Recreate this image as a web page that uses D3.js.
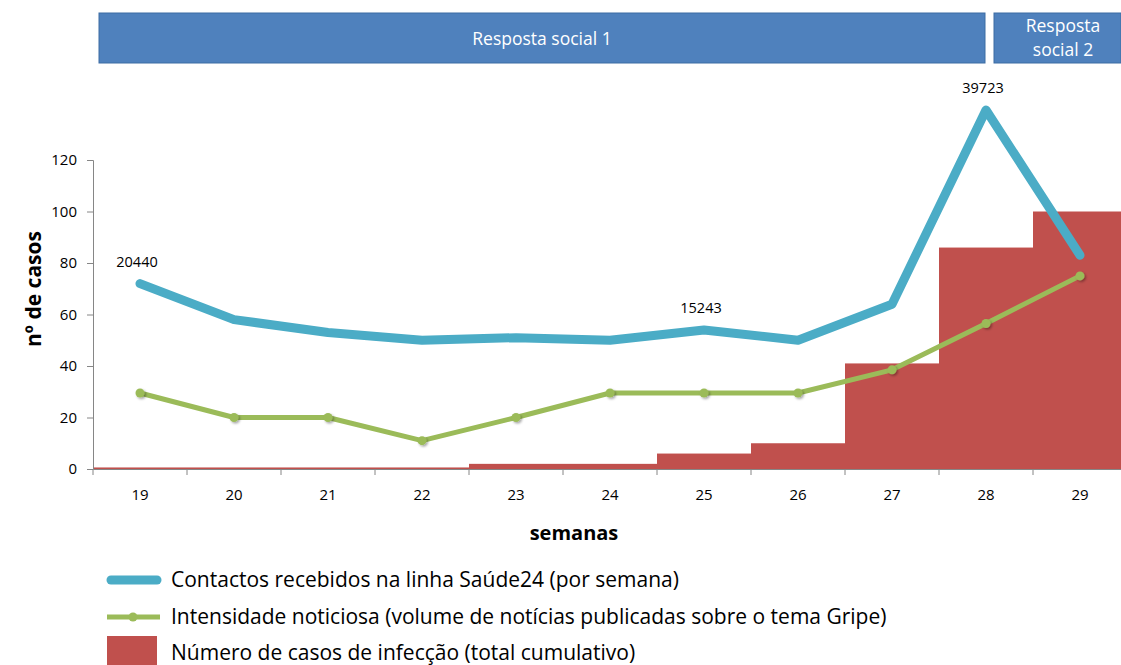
<!DOCTYPE html>
<html>
<head>
<meta charset="utf-8">
<script src="https://cdn.jsdelivr.net/npm/d3@7"></script>
<style>
  body { margin: 0; background: #fff; }
  svg { display: block; font-family: "Open Sans", "Noto Sans", sans-serif; }
</style>
</head>
<body>
<svg id="chart" width="1121" height="665"></svg>
<script>
// data
const weeks = ["19", "20", "21", "22", "23", "24", "25", "26", "27", "28", "29"];
const contactos = [72, 58, 53, 50, 51, 50, 54, 50, 64, 139.4, 83];   // scaled contacts
const contactLabels = [{week: "19", text: "20440"}, {week: "25", text: "15243"}, {week: "28", text: "39723"}];
const noticias = [29.5, 20, 20, 11, 20, 29.5, 29.5, 29.5, 38.5, 56.5, 75];
const casos = [0.6, 0.6, 0.6, 0.6, 2, 2, 6, 10, 41, 86, 100];
const yTicks = [0, 20, 40, 60, 80, 100, 120];
const phases = [
  {label: ["Resposta social 1"], from: "19", to: "28"},
  {label: ["Resposta", "social 2"], from: "29", to: "29"}
];
const legendItems = [
  "Contactos recebidos na linha Saúde24 (por semana)",
  "Intensidade noticiosa (volume de notícias publicadas sobre o tema Gripe)",
  "Número de casos de infecção (total cumulativo)"
];

const colors = {blue: "#4bacc6", green: "#9bbb59", red: "#c0504d", axis: "#868686", banner: "#4f81bd"};

const svg = d3.select("svg#chart");
const pad = {left: 93, top: 160, bottom: 469};
const band = 94;

const x = d3.scaleBand()
  .domain(weeks)
  .range([pad.left, pad.left + band * weeks.length])
  .padding(0);

const y = d3.scaleLinear()
  .domain([0, 120])
  .range([pad.bottom, pad.top]);

const cx = d => x(d) + x.bandwidth() / 2;

// drop shadow for the green markers
const defs = svg.append("defs");
const shadow = defs.append("filter").attr("id", "shadow")
  .attr("x", "-50%").attr("y", "-50%").attr("width", "200%").attr("height", "200%");
shadow.append("feDropShadow")
  .attr("dx", 1.5).attr("dy", 1.5).attr("stdDeviation", 1.2)
  .attr("flood-color", "#000").attr("flood-opacity", 0.35);

// banners
const banners = svg.append("g").attr("class", "banners");
const bannerBox = [{x0: 99, x1: 985, tx: 542}, {x0: 994, x1: 1121, tx: 1063}];
phases.forEach((p, i) => {
  const b = bannerBox[i];
  const g = banners.append("g");
  g.append("rect")
    .attr("x", b.x0)
    .attr("y", 13)
    .attr("width", b.x1 - b.x0)
    .attr("height", 50)
    .attr("fill", colors.banner)
    .attr("stroke", "#3d6ca3")
    .attr("stroke-width", 1);
  const t = g.append("text")
    .attr("text-anchor", "middle")
    .attr("fill", "#fff")
    .style("font-size", "17.5px");
  p.label.forEach((line, j) => {
    t.append("tspan")
      .attr("x", b.tx)
      .attr("y", p.label.length === 1 ? 45 : 32 + j * 24)
      .text(line);
  });
});

// bars (cumulative cases), bands touching
svg.append("g").attr("class", "bars")
  .selectAll("rect")
  .data(weeks)
  .enter().append("rect")
    .attr("x", d => x(d))
    .attr("y", (d, i) => y(casos[i]))
    .attr("width", x.bandwidth())
    .attr("height", (d, i) => y(0) - y(casos[i]))
    .attr("fill", colors.red);

// y axis
const yAxis = svg.append("g")
  .attr("transform", `translate(${pad.left},0)`)
  .call(d3.axisLeft(y).tickValues(yTicks).tickSize(6).tickPadding(10));
yAxis.select(".domain").attr("stroke", colors.axis);
yAxis.selectAll(".tick line").attr("stroke", colors.axis);
yAxis.selectAll(".tick text")
  .attr("fill", "#000")
  .style("font-size", "15px")
  .style("font-family", "'Open Sans', sans-serif");

// x axis: labels centred, ticks on band boundaries
const xAxis = svg.append("g")
  .attr("transform", `translate(0,${pad.bottom})`)
  .call(d3.axisBottom(x).tickSize(0).tickPadding(20));
xAxis.select(".domain").attr("stroke", colors.axis);
xAxis.selectAll(".tick text")
  .attr("fill", "#000")
  .style("font-size", "15px")
  .style("font-family", "'Open Sans', sans-serif");
xAxis.selectAll(".boundary")
  .data(weeks)
  .enter().append("line")
    .attr("x1", d => x(d)).attr("x2", d => x(d))
    .attr("y1", 0).attr("y2", 6)
    .attr("stroke", colors.axis);

// blue line
svg.append("path")
  .datum(weeks)
  .attr("fill", "none")
  .attr("stroke", colors.blue)
  .attr("stroke-width", 9)
  .attr("stroke-linecap", "round")
  .attr("stroke-linejoin", "round")
  .attr("d", d3.line().x(d => cx(d)).y((d, i) => y(contactos[i])));

// green line + markers
svg.append("path")
  .datum(weeks)
  .attr("fill", "none")
  .attr("stroke", colors.green)
  .attr("stroke-width", 5)
  .attr("stroke-linejoin", "round")
  .attr("d", d3.line().x(d => cx(d)).y((d, i) => y(noticias[i])));

svg.append("g").selectAll("circle")
  .data(weeks)
  .enter().append("circle")
    .attr("cx", d => cx(d))
    .attr("cy", (d, i) => y(noticias[i]))
    .attr("r", 4.5)
    .attr("fill", colors.green)
    .attr("filter", "url(#shadow)");

// data labels on the blue line
svg.append("g").selectAll("text")
  .data(contactLabels)
  .enter().append("text")
    .attr("x", d => cx(d.week) - 3)
    .attr("y", d => y(contactos[weeks.indexOf(d.week)]) - 17)
    .attr("text-anchor", "middle")
    .style("font-size", "14.5px")
    .text(d => d.text);

// axis titles
svg.append("text")
  .attr("transform", "translate(41,289) rotate(-90)")
  .attr("text-anchor", "middle")
  .style("font-size", "21px")
  .style("font-weight", "bold")
  .text("nº de casos");

svg.append("text")
  .attr("x", 574)
  .attr("y", 540)
  .attr("text-anchor", "middle")
  .style("font-size", "20px")
  .style("font-weight", "bold")
  .text("semanas");

// legend
const legend = svg.append("g").attr("class", "legend");
const rowY = [580, 617, 653];
legend.append("line")
  .attr("x1", 111).attr("x2", 157)
  .attr("y1", rowY[0]).attr("y2", rowY[0])
  .attr("stroke", colors.blue).attr("stroke-width", 9).attr("stroke-linecap", "round");
legend.append("line")
  .attr("x1", 107).attr("x2", 160)
  .attr("y1", rowY[1]).attr("y2", rowY[1])
  .attr("stroke", colors.green).attr("stroke-width", 5);
legend.append("circle")
  .attr("cx", 133).attr("cy", rowY[1]).attr("r", 4.5)
  .attr("fill", colors.green);
legend.append("rect")
  .attr("x", 107).attr("y", 636)
  .attr("width", 50).attr("height", 30)
  .attr("fill", colors.red);

legend.selectAll("text.item")
  .data(legendItems)
  .enter().append("text")
    .attr("class", "item")
    .attr("x", 171)
    .attr("y", (d, i) => rowY[i] + 7)
    .style("font-size", "21px")
    .text(d => d);
</script>
</body>
</html>
